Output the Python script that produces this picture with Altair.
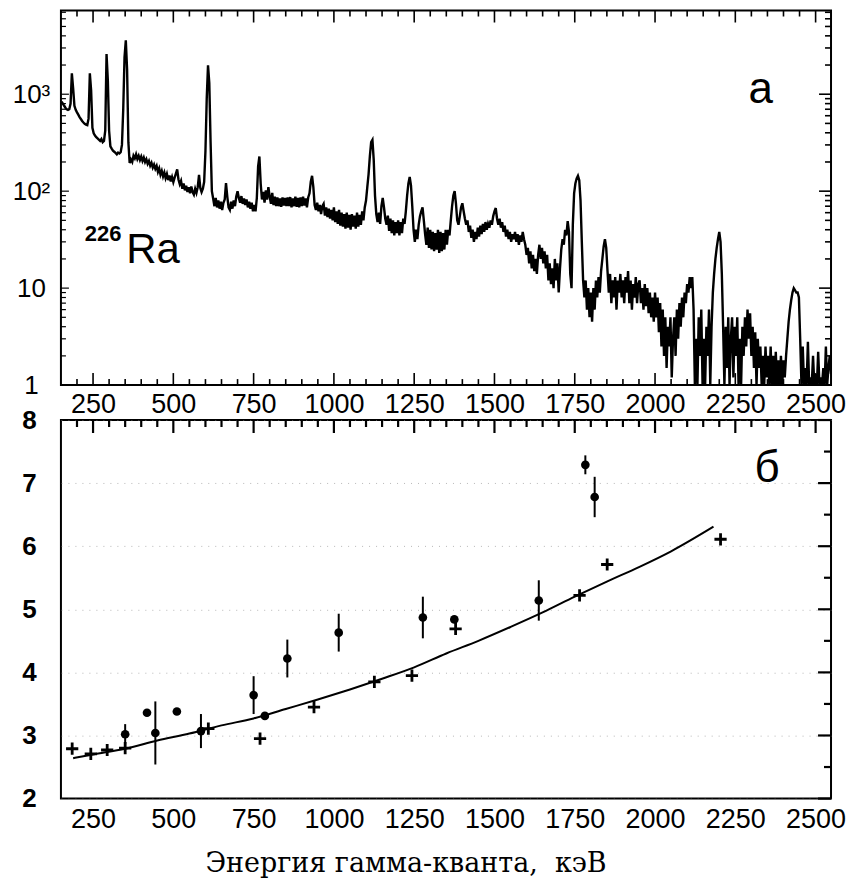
import altair as alt
import pandas as pd

# ---------------- panel "а": 226Ra gamma spectrum (counts per 4 keV channel) -------------
spec_start = 152
spec_step = 4
spec_counts = [
    # 152-248
    840, 800, 760, 725, 700, 690, 700, 800, 1640, 1150, 760, 690, 650, 615, 580, 555, 530, 510, 495, 485, 480, 560, 1640, 1100, 450,
    # 252-348
    395, 375, 360, 350, 340, 330, 345, 320, 330, 420, 2600, 1400, 420, 290, 275, 262, 255, 248, 240, 250, 245, 252, 300, 700, 2400,
    # 352-448
    3600, 1800, 320, 195, 212, 200, 232, 218, 240, 215, 232, 210, 228, 205, 222, 200, 214, 192, 205, 183, 196, 175, 188, 170, 182,
    # 452-548
    158, 172, 148, 162, 142, 156, 136, 150, 130, 145, 126, 140, 124, 138, 152, 168, 132, 118, 128, 106, 120, 102, 114, 98, 110,
    # 552-648
    95, 112, 98, 92, 106, 96, 110, 147, 108, 98, 106, 125, 260, 900, 1990, 1300, 320, 100, 84, 70, 85, 68, 80, 66, 78,
    # 652-748
    64, 76, 82, 121, 88, 68, 64, 78, 66, 80, 70, 88, 100, 85, 76, 89, 74, 84, 72, 82, 68, 78, 66, 76, 62,
    # 752-848
    72, 62, 85, 180, 228, 120, 82, 98, 76, 102, 82, 110, 88, 74, 96, 72, 88, 70, 86, 70, 84, 69, 86, 71, 85,
    # 852-948
    70, 86, 70, 87, 68, 84, 70, 88, 69, 85, 68, 86, 70, 88, 71, 84, 68, 86, 95, 125, 144, 110, 72, 64, 76,
    # 952-1048
    62, 72, 58, 70, 74, 56, 68, 54, 66, 52, 64, 50, 68, 48, 62, 46, 64, 44, 60, 43, 58, 41, 60, 42, 57,
    # 1052-1148
    40, 58, 43, 56, 41, 60, 43, 57, 45, 62, 50, 68, 80, 110, 150, 230, 320, 338, 210, 90, 58, 48, 60, 46, 70,
    # 1152-1248
    85, 68, 52, 45, 56, 39, 52, 37, 50, 35, 48, 37, 50, 35, 48, 37, 52, 46, 62, 90, 120, 140, 115, 70, 40,
    # 1252-1348
    30, 40, 32, 45, 55, 62, 68, 50, 36, 28, 42, 26, 40, 25, 38, 24, 37, 25, 40, 23, 38, 24, 37, 25, 40,
    # 1352-1448
    28, 40, 35, 50, 70, 90, 100, 75, 50, 45, 55, 68, 75, 62, 52, 45, 50, 38, 44, 33, 40, 30, 38, 32, 42,
    # 1452-1548
    34, 44, 36, 46, 38, 48, 40, 46, 42, 50, 45, 55, 62, 67, 52, 45, 52, 42, 48, 38, 44, 34, 40, 32, 38,
    # 1552-1648
    30, 36, 32, 38, 30, 36, 28, 35, 30, 38, 32, 28, 22, 26, 18, 24, 16, 22, 15, 20, 14, 22, 28, 20, 26,
    # 1652-1748
    18, 24, 16, 22, 12, 18, 11, 16, 10, 20, 12, 18, 9, 16, 25, 32, 28, 40, 35, 49, 38, 14, 10, 45, 95,
    # 1752-1848
    120, 135, 144, 130, 80, 30, 12, 8, 12, 6, 10, 5, 9, 4.5, 10, 6, 12, 8, 13, 9, 15, 20, 27, 32, 26,
    # 1852-1948
    15, 9, 14, 7, 12, 8, 13, 6, 12, 9, 14, 8, 12, 7, 13, 9, 15, 7, 12, 6, 11, 8, 13, 7, 11,
    # 1952-2048
    12, 7, 10, 6, 11, 6.5, 10, 5.5, 9, 5, 8, 4.5, 9, 5, 8, 3.5, 7, 2.5, 6, 2, 5, 1.5, 4, 2.5, 5,
    # 2052-2148
    1.2, 3, 5, 2, 6, 3, 7, 4, 8, 5, 9, 7, 11, 9, 13, 10, 13, 6, 1, 3, 1, 5, 2, 6, 1,
    # 2152-2248
    3, 1, 4, 2, 6, 1, 4, 9, 14, 20, 26, 32, 38, 30, 14, 4, 1, 4, 1.5, 5, 1, 3, 5, 1.2, 4,
    # 2252-2348
    2, 5, 1, 3, 1, 4, 2, 5, 2.5, 6, 3, 5.5, 2, 4, 1.5, 3.5, 1, 3, 1.5, 2.5, 1, 2, 1, 2.5, 1.2,
    # 2352-2448
    2, 1, 2.5, 1, 2, 1, 2.2, 1, 1.8, 1, 2, 1, 1.8, 1.2, 2, 3, 4.5, 6, 7.5, 9, 10, 9.5, 9, 9, 8,
    # 2452-2548
    3, 1, 2.5, 1, 1.5, 1, 2.8, 1, 1.2, 1, 2, 1, 1.3, 1, 2.2, 1, 1.2, 1, 1.5, 1, 2.5, 1, 1.5, 2, 1.3,
]
spec_energy = [spec_start + spec_step * i for i in range(len(spec_counts))]

# ---------------- panel "б": resolution vs energy -------------
cross_E = [185, 243, 294, 350, 609, 770, 938, 1126, 1243, 1379, 1765, 1851, 2204]
cross_R = [2.79, 2.71, 2.77, 2.80, 3.11, 2.95, 3.45, 3.85, 3.95, 4.69, 5.22, 5.71, 6.11]

circle_E = [350, 418, 444, 511, 586, 750, 785, 855, 1015, 1277, 1375, 1638, 1783, 1812]
circle_R = [3.02, 3.36, 3.04, 3.38, 3.07, 3.64, 3.31, 4.22, 4.63, 4.87, 4.84, 5.14, 7.29, 6.78]
circle_err = [0.16, 0.0, 0.5, 0.0, 0.27, 0.30, 0.0, 0.30, 0.30, 0.33, 0.05, 0.32, 0.15, 0.32]

fit_E = [188, 250, 350, 450, 550, 650, 750, 850, 950, 1050, 1150, 1250, 1350, 1450,
         1550, 1650, 1750, 1850, 1950, 2050, 2182]
fit_R = [2.64, 2.70, 2.79, 2.92, 3.03, 3.16, 3.27, 3.42, 3.57, 3.73, 3.90, 4.08, 4.30, 4.50,
         4.72, 4.95, 5.20, 5.44, 5.67, 5.92, 6.31]

# axis tick values / labels
x_major = [250, 500, 750, 1000, 1250, 1500, 1750, 2000, 2250, 2500]
x_minor = [v for v in range(200, 2550, 50) if v % 250 != 0]
y_top_major = [1, 10, 100, 1000]
y_top_minor = [m * d for d in (1, 10, 100, 1000) for m in range(2, 10) if m * d <= 7300]
y_bot_major = [2, 3, 4, 5, 6, 7, 8]
y_bot_minor = [2.5, 3.5, 4.5, 5.5, 6.5, 7.5]
x_title = "Энергия гамма-кванта,\u00a0 кэВ"

W = 771
H1 = 375
H2 = 379
FONT = "Liberation Sans"

xscale = alt.Scale(domain=[150, 2548], nice=False, zero=False)
yscale_top = alt.Scale(type="log", domain=[1, 7300], nice=False)
yscale_bot = alt.Scale(domain=[2, 8], nice=False, zero=False)

xaxis_top = alt.Axis(values=x_major, format="d", ticks=False, domain=False, grid=False, title=None,
                     labelFontSize=27, labelFont=FONT, labelColor="black", labelPadding=6,
                     labelOverlap=False, labelFlush=False)
yaxis_top = alt.Axis(values=y_top_major, ticks=False, domain=False, grid=False, title=None,
                     labelExpr="datum.value == 1000 ? '10³' : datum.value == 100 ? '10²' : datum.value == 10 ? '10' : '1'",
                     labelFontSize=26, labelFont=FONT, labelColor="black", labelAlign="center",
                     labelBaseline="middle", labelPadding=30, labelOverlap=False, labelFlush=False)
xaxis_bot = alt.Axis(values=x_major, format="d", ticks=False, domain=False, grid=False, title=x_title,
                     labelFontSize=27, labelFont=FONT, labelColor="black", labelPadding=8,
                     labelOverlap=False, labelFlush=False,
                     titleFont="DejaVu Serif", titleFontSize=27, titleFontWeight="normal",
                     titleColor="black", titlePadding=18, titleX=345, titleAlign="center")
yaxis_bot = alt.Axis(values=y_bot_major, ticks=False, domain=False, grid=True, title=None,
                     gridColor="#888888", gridDash=[1, 6], gridOpacity=0.6, gridWidth=1,
                     labelFontSize=26, labelFontWeight="bold", labelFont=FONT, labelColor="black",
                     labelAlign="center", labelBaseline="middle", labelPadding=32,
                     labelOverlap=False, labelFlush=False)


def X(axis):
    return alt.X("E:Q", scale=xscale, axis=axis)


def Ytop():
    return alt.Y("N:Q", scale=yscale_top, axis=yaxis_top)


def Ybot():
    return alt.Y("R:Q", scale=yscale_bot, axis=yaxis_bot)


# ---------------- top panel -------------
spec_df = pd.DataFrame({"E": spec_energy, "N": spec_counts})
spectrum = alt.Chart(spec_df).mark_line(color="black", strokeWidth=2.4, clip=True).encode(
    x=X(xaxis_top), y=Ytop())


def xticks(values, axis, y0, y1, width=1.6):
    return alt.Chart(pd.DataFrame({"E": values})).mark_rule(color="black", strokeWidth=width).encode(
        x=X(axis), y=alt.value(y0), y2=alt.value(y1))


def yticks_top(values, x0, x1, width=1.6):
    return alt.Chart(pd.DataFrame({"N": values})).mark_rule(color="black", strokeWidth=width).encode(
        y=Ytop(), x=alt.value(x0), x2=alt.value(x1))


def yticks_bot(values, x0, x1, width=2.2):
    return alt.Chart(pd.DataFrame({"R": values})).mark_rule(color="black", strokeWidth=width).encode(
        y=Ybot(), x=alt.value(x0), x2=alt.value(x1))


label_a = alt.Chart(pd.DataFrame({"E": [2329], "N": [804], "t": ["а"]})).mark_text(
    font=FONT, fontSize=44, align="center", baseline="alphabetic", color="black").encode(
    x=X(xaxis_top), y=Ytop(), text="t:N")
label_ra = alt.Chart(pd.DataFrame({"E": [353], "N": [18.2], "t": ["Ra"]})).mark_text(
    font=FONT, fontSize=42, align="left", baseline="alphabetic", color="black").encode(
    x=X(xaxis_top), y=Ytop(), text="t:N")
label_226 = alt.Chart(pd.DataFrame({"E": [224], "N": [30.7], "t": ["226"]})).mark_text(
    font=FONT, fontSize=22, fontWeight="bold", align="left", baseline="alphabetic", color="black").encode(
    x=X(xaxis_top), y=Ytop(), text="t:N")

top = alt.layer(
    spectrum,
    xticks(x_major, xaxis_top, H1, H1 - 12),
    xticks(x_minor, xaxis_top, H1, H1 - 6),
    xticks(x_major, xaxis_top, 0, 12),
    xticks(x_minor, xaxis_top, 0, 6),
    yticks_top(y_top_major, W, W - 12),
    yticks_top(y_top_minor, W, W - 6),
    yticks_top(y_top_major, 0, 8, 1.2),
    yticks_top(y_top_minor, 0, 5, 1.2),
    label_a, label_ra, label_226,
).properties(width=W, height=H1)

# ---------------- bottom panel -------------
circ_df = pd.DataFrame({"E": circle_E, "R": circle_R, "err": circle_err})
circ_df["lo"] = circ_df["R"] - circ_df["err"]
circ_df["hi"] = circ_df["R"] + circ_df["err"]
err_df = circ_df[circ_df["err"] > 0]

errbars = alt.Chart(err_df).mark_rule(color="black", strokeWidth=2).encode(
    x=X(xaxis_bot), y=alt.Y("lo:Q", scale=yscale_bot, axis=yaxis_bot), y2="hi:Q")
circles = alt.Chart(circ_df).mark_circle(color="black", size=75, opacity=1).encode(
    x=X(xaxis_bot), y=Ybot())
crosses = alt.Chart(pd.DataFrame({"E": cross_E, "R": cross_R})).mark_point(
    shape="M-1,0L1,0M0,-1L0,1", size=150, strokeWidth=2.8, filled=False, color="black", opacity=1).encode(
    x=X(xaxis_bot), y=Ybot())
fit = alt.Chart(pd.DataFrame({"E": fit_E, "R": fit_R})).mark_line(
    color="black", strokeWidth=2, interpolate="monotone").encode(x=X(xaxis_bot), y=Ybot())
label_b = alt.Chart(pd.DataFrame({"E": [2349], "R": [7.02], "t": ["б"]})).mark_text(
    font=FONT, fontSize=44, align="center", baseline="alphabetic", color="black").encode(
    x=X(xaxis_bot), y=Ybot(), text="t:N")

bottom = alt.layer(
    fit, errbars, circles, crosses,
    xticks(x_major, xaxis_bot, 0, 13, 2.2),
    xticks(x_minor, xaxis_bot, 0, 7, 2.2),
    yticks_bot(y_bot_major, W, W - 13),
    yticks_bot(y_bot_minor, W, W - 7),
    label_b,
).properties(width=W, height=H2)

chart = alt.vconcat(top, bottom, spacing=35, bounds="flush").resolve_scale(
    y="independent").properties(
    padding={"left": 3, "top": 0, "right": 0, "bottom": 0},
    background="white",
).configure_view(stroke="black", strokeWidth=2)

chart.save("out.html", embed_options={"renderer": "svg", "actions": False})
